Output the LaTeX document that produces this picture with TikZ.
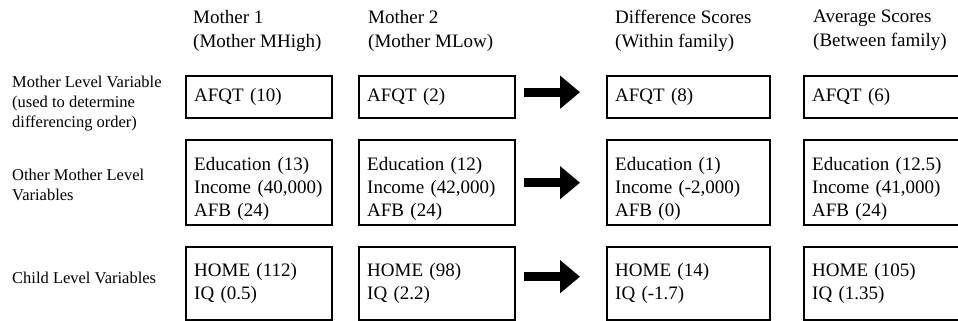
\documentclass[tikz,border=0pt]{standalone}
\usepackage{fontspec}
\setmainfont{Liberation Serif}
\usetikzlibrary{arrows.meta,positioning}

\begin{document}
\begin{tikzpicture}[x=1pt,y=-1pt,
every node/.style={font=\fontsize{19}{23}\selectfont},
box/.style={draw, line width=2.4pt, rectangle, align=left,
	anchor=north west, inner xsep=8pt, inner ysep=0pt},
head/.style={align=left, anchor=north west, inner sep=0pt,
	font=\fontsize{19}{24}\selectfont},
rowlabel/.style={align=left, anchor=west, inner sep=0pt,
	font=\fontsize{16.5}{20}\selectfont},
bigarrow/.style={line width=9pt, -{Triangle[length=20pt,width=32pt]},
	shorten <=8pt, shorten >=26pt}]

\useasboundingbox (0,0) rectangle (958,321);

% column heads
\node[head] (h1) at (193,10) {Mother 1\\(Mother MHigh)};
\node[head] (h2) at (368,10) {Mother 2\\(Mother MLow)};
\node[head] (h3) at (615,10) {Difference Scores\\(Within family)};
\node[head] (h4) at (813,10) {Average Scores\\(Between family)};

% row labels
\node[rowlabel] (la) at (12,104) {Mother Level Variable\\(used to determine\\differencing order)};
\node[rowlabel] (lb) at (12,185) {Other Mother Level\\Variables};
\node[rowlabel] (lc) at (12,278) {Child Level Variables};

% mother 1
\node[box, text width=130pt, minimum height=42pt] (m1a) at (185,75) {AFQT (10)};
\node[box, text width=130pt, minimum height=85pt] (m1b) at (185,139) {\rule{0pt}{25pt}Education (13)\\Income (40,000)\\AFB (24)};
\node[box, text width=130pt, minimum height=73pt] (m1c) at (185,246) {HOME (112)\\IQ (0.5)};

% mother 2
\node[box, text width=140pt, minimum height=42pt] (m2a) at (358,75) {AFQT (2)};
\node[box, text width=140pt, minimum height=85pt] (m2b) at (358,139) {\rule{0pt}{25pt}Education (12)\\Income (42,000)\\AFB (24)};
\node[box, text width=140pt, minimum height=73pt] (m2c) at (358,246) {HOME (98)\\IQ (2.2)};

% differences
\node[box, text width=147pt, minimum height=42pt] (dfa) at (606,75) {AFQT (8)};
\node[box, text width=147pt, minimum height=85pt] (dfb) at (606,139) {\rule{0pt}{25pt}Education (1)\\Income (-2,000)\\AFB (0)};
\node[box, text width=147pt, minimum height=73pt] (dfc) at (606,246) {HOME (14)\\IQ (-1.7)};

% averages
\node[box, text width=147pt, minimum height=42pt] (ava) at (803,75) {AFQT (6)};
\node[box, text width=147pt, minimum height=85pt] (avb) at (803,139) {\rule{0pt}{25pt}Education (12.5)\\Income (41,000)\\AFB (24)};
\node[box, text width=147pt, minimum height=73pt] (avc) at (803,246) {HOME (105)\\IQ (1.35)};

\draw[bigarrow] ([yshift=5pt]m2a.east) -- ([yshift=5pt]dfa.west);
\draw[bigarrow] (m2b.east) -- (dfb.west);
\draw[bigarrow] ([yshift=7pt]m2c.east) -- ([yshift=7pt]dfc.west);
\end{tikzpicture}
\end{document}
